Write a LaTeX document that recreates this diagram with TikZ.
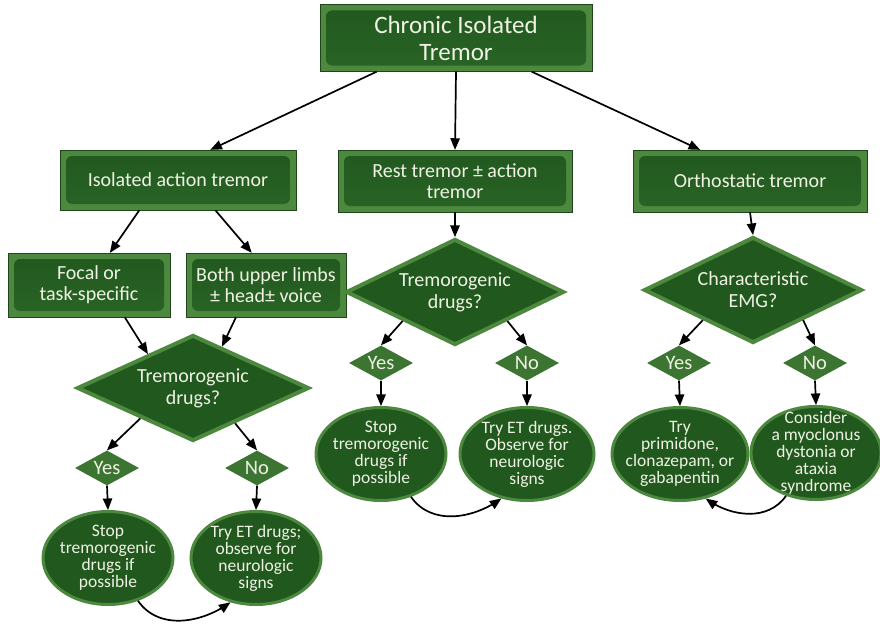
\documentclass[tikz,border=0pt]{standalone}
\usepackage{xcolor}
\usepackage{fontspec}
\setmainfont{Carlito}
\usepackage{tikz}
\usetikzlibrary{shapes.geometric, arrows}

\definecolor{boxlight}{RGB}{76,136,62}
\definecolor{boxdark}{RGB}{32,88,30}
\definecolor{boxedge}{RGB}{30,70,26}
\definecolor{boxflat}{RGB}{60,116,50}
\definecolor{boxtext}{RGB}{240,242,228}

\newcommand{\tightlines}{\lineskiplimit=-20pt\relax}

\begin{document}
\begin{tikzpicture}[x=1pt, y=-1pt, font=\fontsize{20}{21}\selectfont]
	\tikzstyle{panel} = [rectangle, draw=boxedge, fill=boxlight, text=boxtext, align=center, path picture={\shade[top color=boxdark, bottom color=boxdark!75!boxlight, rounded corners=6pt] ([shift={(6pt,-6pt)}]path picture bounding box.north west) rectangle ([shift={(-6pt,6pt)}]path picture bounding box.south east);}]
	
	\tikzstyle{question} = [diamond, shape aspect=2.1, minimum width=232, minimum height=106, inner sep=0pt, draw=boxlight, line width=4pt, fill=boxdark, text=boxtext, align=center, font=\fontsize{20}{22}\selectfont]
	
	\tikzstyle{answer} = [diamond, shape aspect=1.9, minimum width=64, minimum height=35, inner sep=0pt, fill=boxflat, text=boxtext, font=\fontsize{20.5}{21}\selectfont]
	
	\tikzstyle{action} = [ellipse, minimum width=130, minimum height=93, inner sep=-20pt, draw=boxlight, line width=3pt, fill=boxdark, text=boxtext, align=center, font=\fontsize{17.5}{17}\selectfont\tightlines]
	
	\tikzstyle{arrow} = [->,>= triangle 45, line width=1.7pt]
	
	\useasboundingbox (0,0) rectangle (880,626);
	
	% Top of the chart
	\node (root) [panel, minimum width=272, minimum height=67, font=\fontsize{25}{27}\selectfont] at (456,38) {Chronic Isolated\\Tremor};
	
	% Level 1 nodes
	\node (e1) [panel, minimum width=236, minimum height=60] at (178,180) {Isolated action tremor};
	\node (e2) [panel, minimum width=234, minimum height=62] at (455,181) {Rest tremor ± action\\tremor};
	\node (e3) [panel, minimum width=234, minimum height=62] at (750,181) {Orthostatic tremor};
	
	% Level 2 nodes
	\node (e4) [panel, minimum width=162, minimum height=64] at (89,285) {Focal or\\task-specific};
	\node (e5) [panel, minimum width=160, minimum height=64] at (266,285) {Both upper limbs\\± head± voice};
	
	% Questions
	\node (q1) [question] at (193,388) {Tremorogenic\\drugs?};
	\node (q2) [question, minimum width=218] at (455,292) {Tremorogenic\\drugs?};
	\node (q3) [question, minimum width=218] at (753,290) {Characteristic\\EMG?};
	
	% Yes / No
	\node (y1) [answer] at (107,468) {Yes};
	\node (n1) [answer] at (257,468) {No};
	\node (y2) [answer] at (381,363) {Yes};
	\node (n2) [answer] at (527,363) {No};
	\node (y3) [answer] at (679,363) {Yes};
	\node (n3) [answer] at (815,363) {No};
	
	% Outcomes
	\node (a1) [action] at (108,558) {Stop\\tremorogenic\\drugs if\\possible};
	\node (a2) [action] at (256,558) {Try ET drugs;\\observe for\\neurologic\\signs};
	\node (a3) [action] at (381,454) {Stop\\tremorogenic\\drugs if\\possible};
	\node (a4) [action, minimum width=134] at (527,454) {Try ET drugs.\\Observe for\\neurologic\\signs};
	\node (a5) [action, minimum width=136] at (680,454) {Try\\primidone,\\clonazepam, or\\gabapentin};
	\node (a6) [action] at (816,453) {Consider\\a myoclonus\\dystonia or\\ataxia\\syndrome};
	
	% Arrows
	\draw [arrow] (root.203) -- (e1.43);
	\draw [arrow] (root.south) -- (e2.north);
	\draw [arrow] (root.336) -- (e3.148);
	
	\draw [arrow] (e1.218) -- (e4.57);
	\draw [arrow] (e1.321) -- (e5.114);
	\draw [arrow] (e4.318) -- (q1.143);
	\draw [arrow] (e5.227) -- (q1.55);
	\draw [arrow] (e2.south) -- (q2.north);
	\draw [arrow] (e3.south) -- (q3.north);
	
	\draw [arrow] (q1.210) -- (y1.north);
	\draw [arrow] (q1.320) -- (n1.north);
	\draw [arrow] (q2.209) -- (y2.north);
	\draw [arrow] (q2.331) -- (n2.north);
	\draw [arrow] (q3.211) -- (y3.north);
	\draw [arrow] (q3.329) -- (n3.north);
	
	\draw [arrow] (y1.south) -- (a1.north);
	\draw [arrow] (n1.south) -- (a2.north);
	\draw [arrow] (y2.south) -- (a3.north);
	\draw [arrow] (n2.south) -- (a4.north);
	\draw [arrow] (y3.south) -- (a5.north);
	\draw [arrow] (n3.south) -- (a6.north);
	
	% Curved arrows
	\draw [arrow] (a1.-55) to[out=-55, in=-145] (a2.-120);
	\draw [arrow] (a3.-55) to[out=-55, in=-145] (a4.-120);
	\draw [arrow] (a6.-125) to[out=-125, in=-35] (a5.-60);
\end{tikzpicture}
\end{document}
